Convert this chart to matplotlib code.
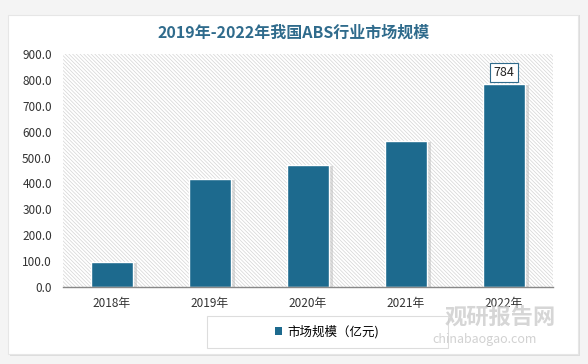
import matplotlib
matplotlib.use("Agg")
import matplotlib.pyplot as plt
from matplotlib.patches import Rectangle, FancyBboxPatch

plt.rcParams['font.family'] = ['Noto Sans CJK SC', 'DejaVu Sans']
plt.rcParams['hatch.linewidth'] = 0.5
plt.rcParams['hatch.color'] = '#d4d4d4'

# datos
years = ["2018年", "2019年", "2020年", "2021年", "2022年"]
market = [98, 418, 470, 565, 784]
yticks = [0, 100, 200, 300, 400, 500, 600, 700, 800, 900]
title = "2019年-2022年我国ABS行业市场规模"
legend_label = "市场规模（亿元)"

bar_color = "#1d6a8e"
title_color = "#2f6b8c"

fig = plt.figure(figsize=(5.88, 3.64), dpi=100)
fig.patch.set_facecolor("#f4f4f4")

# tarjeta blanca con sombra
shadow = FancyBboxPatch((10 / 588, 8 / 364), 570 / 588, 341 / 364,
                        boxstyle="square,pad=0", transform=fig.transFigure,
                        facecolor="#dddddd", edgecolor="none", zorder=-2)
card = FancyBboxPatch((8 / 588, 10 / 364), 570 / 588, 339 / 364,
                      boxstyle="square,pad=0", transform=fig.transFigure,
                      facecolor="white", edgecolor="#e6e6e6", lw=0.8, zorder=-1)
fig.patches.extend([shadow, card])

fig.text(0.5, 1 - 33 / 364, title, ha="center", va="center", fontsize=11.5,
         fontweight="bold", color=title_color)

ax = fig.add_axes([63 / 588, 1 - 287 / 364, 490 / 588, 233 / 364])
ax.set_zorder(2)
ax.set_facecolor("none")
x = list(range(len(years)))

# fondo rayado
ax.add_patch(Rectangle((-0.5, 0), 5, 900, facecolor="white", hatch="\\" * 9,
                       edgecolor="#d4d4d4", lw=0, zorder=0))

# sombra de las barras
ax.bar([i + 0.04 for i in x], market, width=0.43, color="#bbbbbb", alpha=0.5,
       zorder=1, bottom=-4)
ax.bar(x, market, width=0.43, color=bar_color, edgecolor="white", lw=1.0, zorder=2)

ax.text(4, market[4] + 18, f"{market[4]}", ha="center", va="bottom", fontsize=9,
        color="#222222", zorder=3,
        bbox=dict(boxstyle="square,pad=0.25", facecolor="white",
                  edgecolor="#2f6b8c", lw=0.8))

ax.set_xlim(-0.5, 4.5)
ax.set_ylim(0, 900)
ax.set_yticks(yticks)
ax.set_yticklabels([f"{v:.1f}" for v in yticks], fontsize=8.5, color="#333333")
ax.set_xticks(x)
ax.set_xticklabels(years, fontsize=8.5, color="#333333")
ax.tick_params(length=0, pad=7)
ax.tick_params(axis="y", pad=8)
for s in ["top", "right", "left"]:
    ax.spines[s].set_visible(False)
ax.spines["bottom"].set_color("#888888")
ax.spines["bottom"].set_linewidth(1)
ax.spines["bottom"].set_zorder(4)

# leyenda (caja dibujada aparte)
fig.patches.append(Rectangle((207 / 588, 1 - 348 / 364), 241 / 588, 32 / 364,
                             transform=fig.transFigure, facecolor="white",
                             edgecolor="#dddddd", lw=0.8, zorder=3))
handle = Rectangle((0, 0), 1, 1, facecolor=bar_color)
leg = fig.legend([handle], [legend_label], loc="center",
                 bbox_to_anchor=(327 / 588, 1 - 332 / 364), frameon=False,
                 fontsize=9, handlelength=0.6, handleheight=0.6,
                 handletextpad=0.4)
leg.set_zorder(5)

# marca de agua
fig.text(445 / 588, 1 - 318 / 364, "观研报告网", fontsize=16, fontweight="bold",
         color="#cccccc", ha="left", va="center", alpha=0.8, zorder=6)
fig.text(432 / 588, 1 - 340 / 364, "chinabaogao.com", fontsize=9,
         color="#c6c6c6", ha="left", va="center", alpha=0.8, zorder=6)

fig.savefig("out.png", dpi=100, facecolor=fig.get_facecolor())
